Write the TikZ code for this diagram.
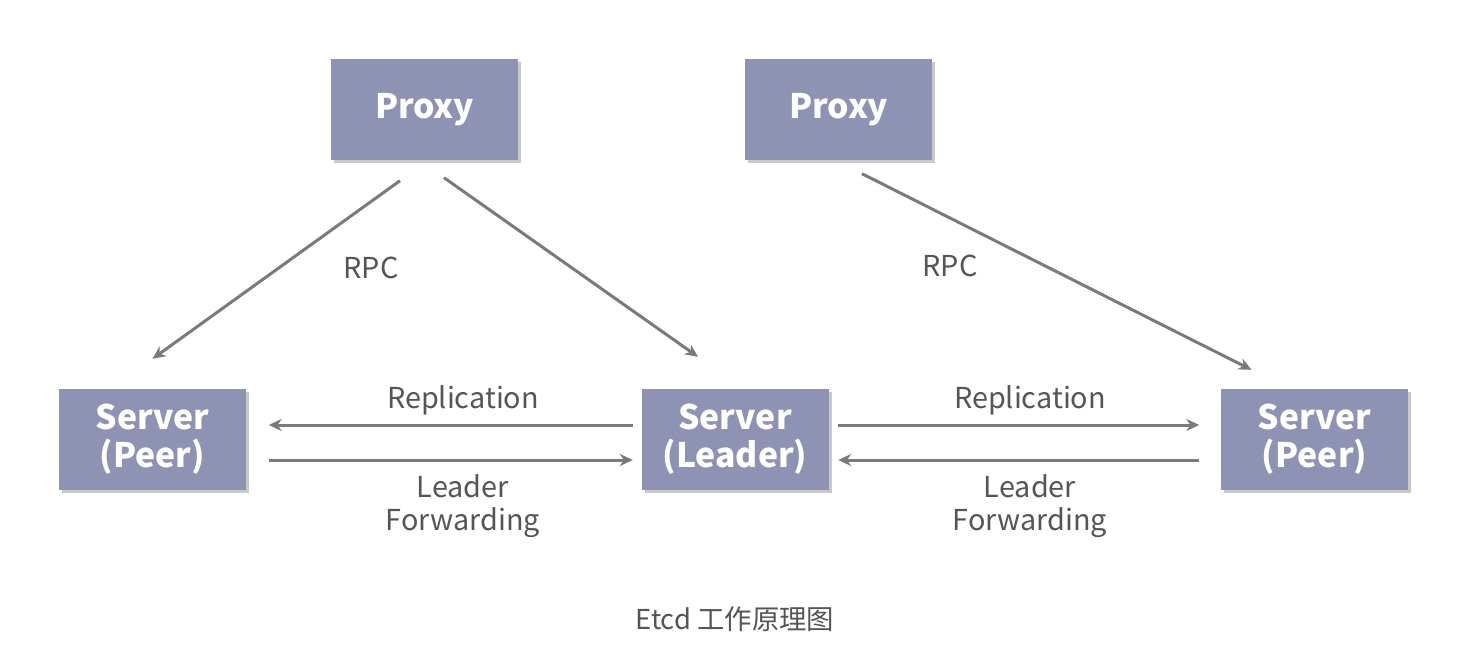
\documentclass[tikz,border=0pt]{standalone}
\usepackage{fontspec}
\setmainfont{Noto Sans CJK SC}
\usepackage{xcolor}
\usepackage{tikz}
\usetikzlibrary{arrows.meta, positioning, shadows}
\definecolor{boxfill}{HTML}{8E93B3}
\definecolor{linegray}{HTML}{7A7A7A}
\definecolor{textgray}{HTML}{555555}
\tikzset{
  box/.style={rectangle, fill=boxfill, text=white, font=\fontsize{9.6}{11}\selectfont\bfseries,
    minimum height=1.01cm, minimum width=1.87cm, align=center, inner sep=0pt,
    drop shadow={shadow xshift=0.03cm, shadow yshift=-0.03cm, opacity=0.35, fill=black!60}},
  arrow/.style={-{Stealth[length=0.13cm, width=0.12cm]}, line width=0.85pt, draw=linegray},
  lbl/.style={text=textgray, font=\fontsize{8.2}{9.4}\selectfont, align=center, inner sep=0pt},
}

\begin{document}
\begin{tikzpicture}
    \useasboundingbox[fill=white] (0,0) rectangle (14.77,-6.6);
    \node[box] (proxyA) at (4.245,-1.095) {Proxy};
    \node[box] (proxyB) at (8.385,-1.095) {Proxy};
    \node[box] (peerA) at (1.525,-4.39) {Server\\(Peer)};
    \node[box] (leader) at (7.35,-4.39) {Server\\(Leader)};
    \node[box] (peerB) at (13.145,-4.39) {Server\\(Peer)};
    \draw[arrow] ([xshift=-0.245cm, yshift=-0.2cm]proxyA.south) -- ([yshift=0.29cm]peerA.north);
    \draw[arrow] ([xshift=0.195cm, yshift=-0.17cm]proxyA.south) -- ([xshift=-0.37cm, yshift=0.31cm]leader.north);
    \draw[arrow] ([xshift=0.235cm, yshift=-0.13cm]proxyB.south) -- ([xshift=-0.63cm, yshift=0.18cm]peerB.north);
    \draw[arrow] ([xshift=-0.08cm, yshift=0.14cm]leader.west) -- ([xshift=0.22cm, yshift=0.14cm]peerA.east);
    \draw[arrow] ([xshift=0.22cm, yshift=-0.21cm]peerA.east) -- ([xshift=-0.08cm, yshift=-0.21cm]leader.west);
    \draw[arrow] ([xshift=0.09cm, yshift=0.14cm]leader.east) -- ([xshift=-0.21cm, yshift=0.14cm]peerB.west);
    \draw[arrow] ([xshift=-0.21cm, yshift=-0.21cm]peerB.west) -- ([xshift=0.09cm, yshift=-0.21cm]leader.east);
    \node[lbl] (rpcA) at (3.71,-2.68) {RPC};
    \node[lbl] (rpcB) at (9.50,-2.66) {RPC};
    \node[lbl] (replA) at (4.63,-4.00) {Replication};
    \node[lbl] (replB) at (10.30,-4.00) {Replication};
    \node[lbl] (fwdA) at (4.63,-5.06) {Leader\\Forwarding};
    \node[lbl] (fwdB) at (10.30,-5.06) {Leader\\Forwarding};
    \node[lbl, font=\fontsize{7.8}{9}\selectfont] (caption) at (7.35,-6.19) {Etcd 工作原理图};
\end{tikzpicture}
\end{document}
